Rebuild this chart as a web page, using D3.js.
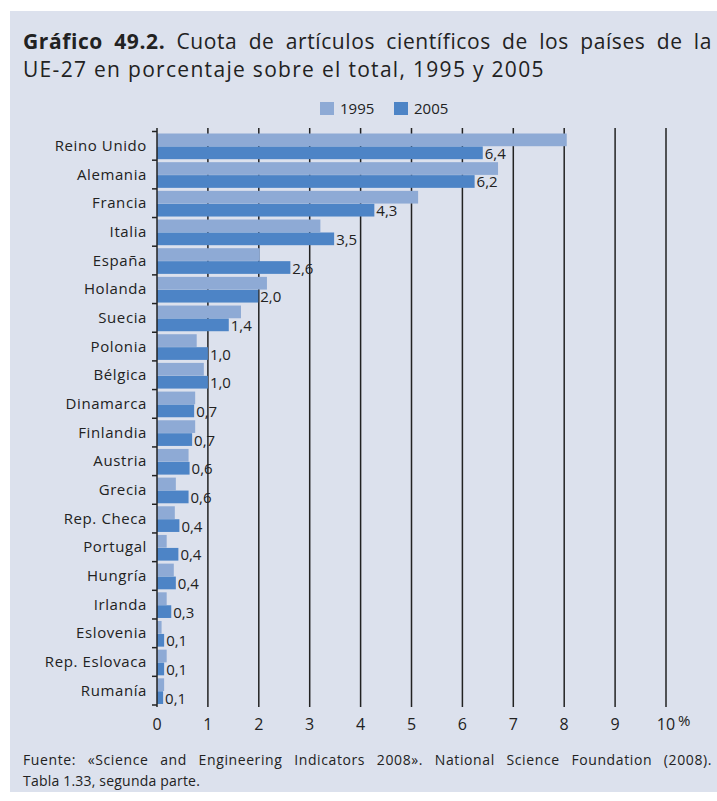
<!DOCTYPE html>
<html>
<head>
<meta charset="utf-8">
<script src="https://cdn.jsdelivr.net/npm/d3@7"></script>
<style>
  body { margin: 0; background: #fff; }
  text { font-family: 'Open Sans', sans-serif; fill: #222; }
</style>
</head>
<body>
<svg id="svg" width="717" height="801"></svg>
<script>
const countries = ['Reino Unido', 'Alemania', 'Francia', 'Italia', 'España', 'Holanda', 'Suecia',
  'Polonia', 'Bélgica', 'Dinamarca', 'Finlandia', 'Austria', 'Grecia', 'Rep. Checa', 'Portugal',
  'Hungría', 'Irlanda', 'Eslovenia', 'Rep. Eslovaca', 'Rumanía'];
const years = ['1995', '2005'];
const values1995 = [8.05, 6.7, 5.13, 3.21, 2.02, 2.16, 1.65, 0.78, 0.92, 0.75, 0.75, 0.62, 0.37,
  0.35, 0.19, 0.33, 0.19, 0.09, 0.19, 0.14];
const values2005 = [6.4, 6.24, 4.27, 3.48, 2.62, 1.99, 1.41, 1.0, 1.0, 0.73, 0.69, 0.64, 0.62,
  0.44, 0.42, 0.37, 0.28, 0.14, 0.14, 0.12];
const xTicks = [0, 1, 2, 3, 4, 5, 6, 7, 8, 9, 10];

const colors = { '1995': '#8eaad5', '2005': '#4d84c6' };

const svg = d3.select('#svg');

svg.append('rect')
  .attr('x', 10).attr('y', 11)
  .attr('width', 707).attr('height', 781)
  .attr('fill', '#dce1ed');

// stretch the gaps between words so a line ends at xEnd
function justify(sel, xEnd) {
  const w = sel.node().getComputedTextLength();
  const gaps = sel.text().split(' ').length - 1;
  sel.attr('word-spacing', (xEnd - +sel.attr('x') - w) / gaps);
}

// title
const title1 = svg.append('text').attr('x', 23).attr('y', 49)
  .style('font-size', '21px').style('letter-spacing', '0.6px');
title1.append('tspan').style('font-weight', 'bold').text('Gráfico 49.2.');
title1.append('tspan').text(' Cuota de artículos científicos de los países de la');
justify(title1, 712);

svg.append('text').attr('x', 23).attr('y', 77)
  .style('font-size', '21px').style('letter-spacing', '1.3px')
  .text('UE-27 en porcentaje sobre el total, 1995 y 2005');

// legend
const legend = svg.append('g').attr('transform', 'translate(320,102)');
years.forEach((yr, i) => {
  const g = legend.append('g').attr('transform', `translate(${i * 74},0)`);
  g.append('rect').attr('width', 14).attr('height', 13).attr('fill', colors[yr]);
  g.append('text').attr('x', 20).attr('y', 12).style('font-size', '15px').text(yr);
});

const x = d3.scaleLinear().domain([0, 10]).range([157, 666]);
const y = d3.scaleBand().domain(countries).range([131.5, 705]);
const inner = d3.scaleBand().domain(years).range([2, y.bandwidth() - 1]).paddingInner(0.02);

// gridlines
svg.append('g')
  .selectAll('line')
  .data(xTicks.slice(1))
  .enter()
  .append('line')
  .attr('x1', d => x(d)).attr('x2', d => x(d))
  .attr('y1', 128).attr('y2', 707)
  .attr('stroke', '#222').attr('stroke-width', 1.5);

// bars
const rows = countries.map((c, i) => ({ c, v: { '1995': values1995[i], '2005': values2005[i] } }));

const groups = svg.append('g')
  .selectAll('g')
  .data(rows)
  .enter()
  .append('g')
  .attr('transform', d => `translate(0,${y(d.c)})`);

groups.selectAll('rect')
  .data(d => years.map(yr => ({ yr, v: d.v[yr] })))
  .enter()
  .append('rect')
  .attr('x', x(0))
  .attr('y', d => inner(d.yr))
  .attr('width', d => x(d.v) - x(0))
  .attr('height', inner.bandwidth())
  .attr('fill', d => colors[d.yr]);

const fmt = d3.format('.1f');
groups.append('text')
  .attr('x', d => x(d.v['2005']) + 2)
  .attr('y', inner('2005') + inner.bandwidth() / 2 + 6)
  .style('font-size', '15px')
  .text(d => fmt(d.v['2005']).replace('.', ','));

// y axis
svg.append('line')
  .attr('x1', x(0)).attr('x2', x(0))
  .attr('y1', 128).attr('y2', 707)
  .attr('stroke', '#222').attr('stroke-width', 1.5);

svg.append('g')
  .selectAll('line')
  .data(d3.range(countries.length + 1))
  .enter()
  .append('line')
  .attr('x1', x(0) - 5).attr('x2', x(0))
  .attr('y1', i => y.range()[0] + i * y.step())
  .attr('y2', i => y.range()[0] + i * y.step())
  .attr('stroke', '#222').attr('stroke-width', 1.5);

svg.append('g')
  .selectAll('text')
  .data(countries)
  .enter()
  .append('text')
  .attr('x', 147)
  .attr('y', d => y(d) + y.bandwidth() / 2 + 5)
  .attr('text-anchor', 'end')
  .style('font-size', '15px')
  .style('letter-spacing', '0.6px')
  .text(d => d);

// x axis labels
svg.append('g')
  .selectAll('text')
  .data(xTicks)
  .enter()
  .append('text')
  .attr('x', d => x(d))
  .attr('y', 730)
  .attr('text-anchor', 'middle')
  .style('font-size', '16px')
  .text(d => d);

svg.append('text').attr('x', 678).attr('y', 726).style('font-size', '15px').text('%');

// source
const source1 = svg.append('text').attr('x', 23).attr('y', 765)
  .style('font-size', '14px').style('letter-spacing', '0.6px')
  .text('Fuente: «Science and Engineering Indicators 2008». National Science Foundation (2008).');
justify(source1, 712);
svg.append('text').attr('x', 23).attr('y', 786)
  .style('font-size', '14px').style('letter-spacing', '0.2px')
  .text('Tabla 1.33, segunda parte.');
</script>
</body>
</html>
